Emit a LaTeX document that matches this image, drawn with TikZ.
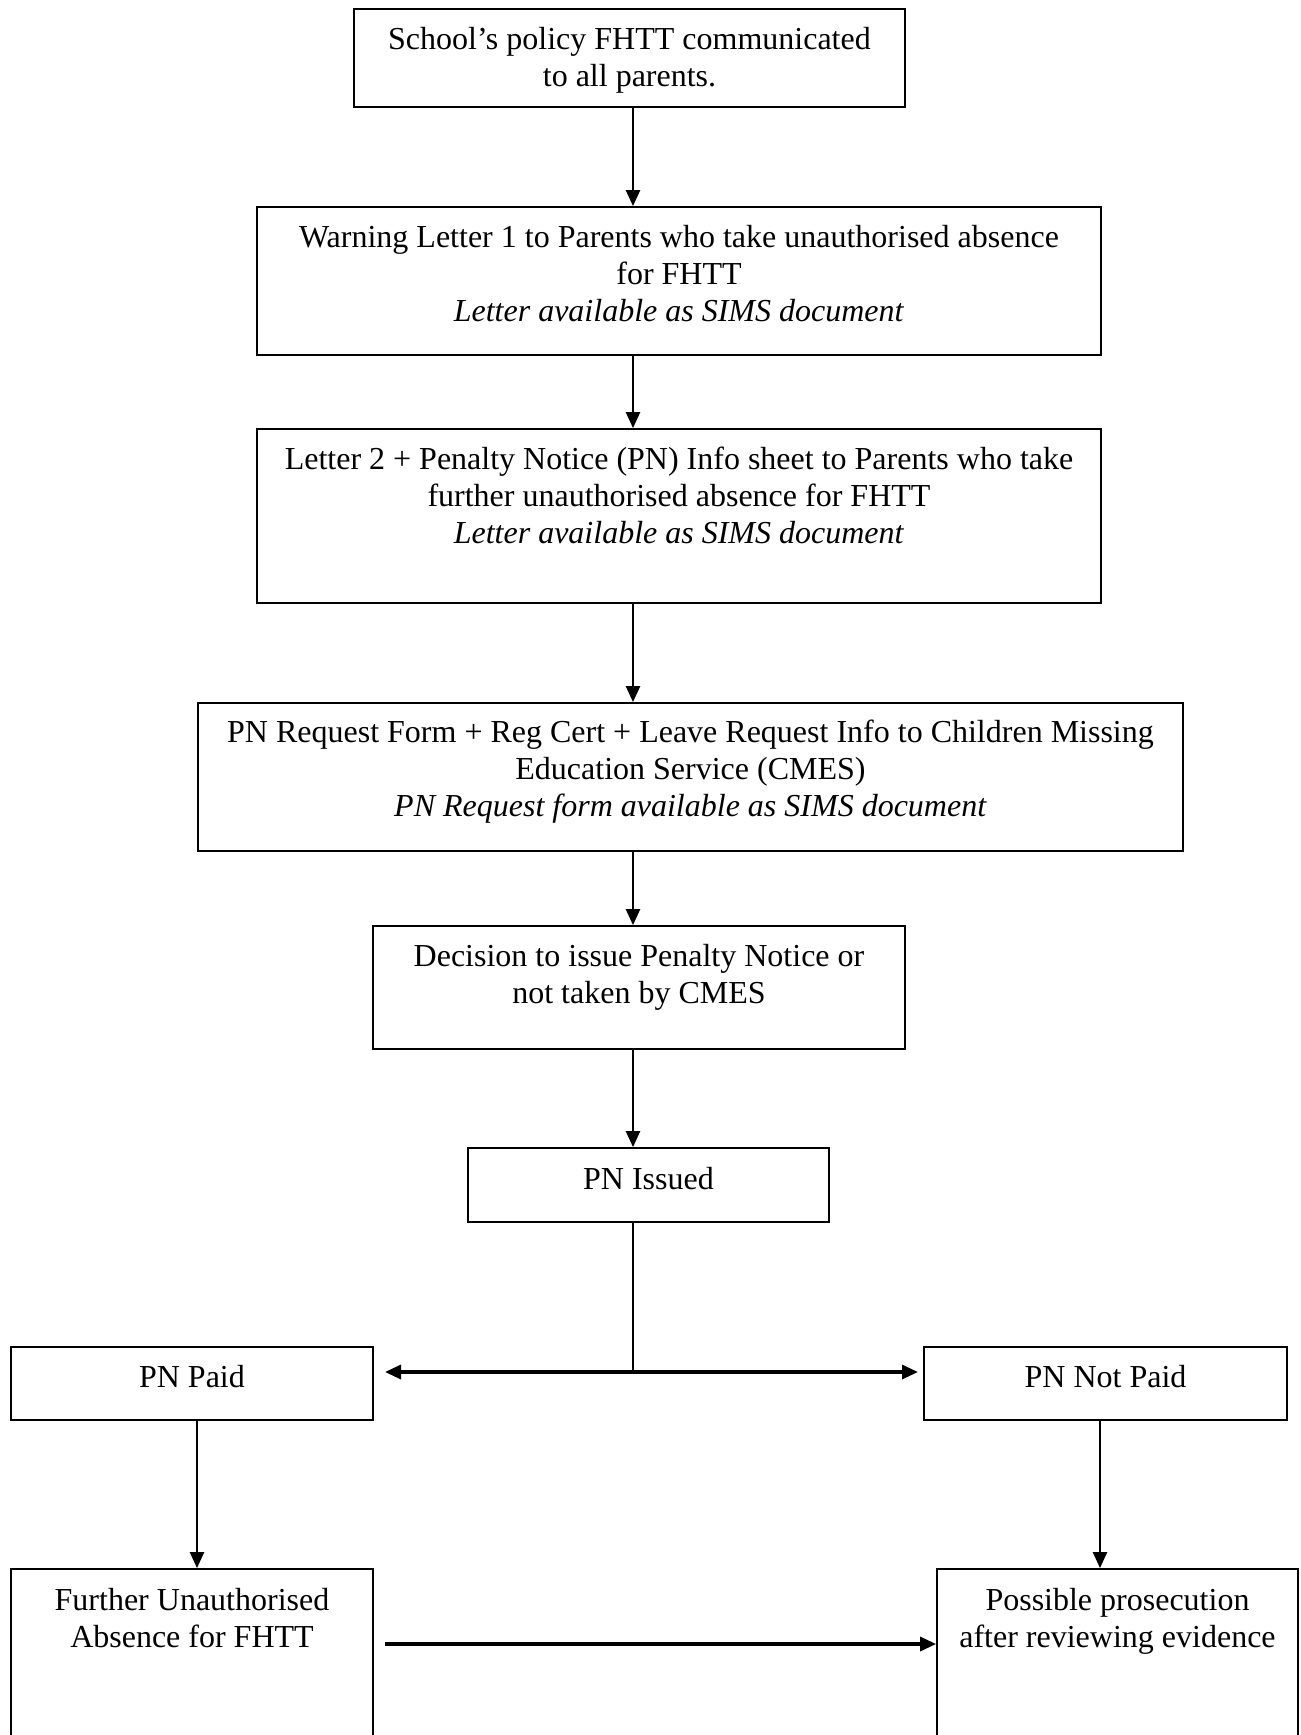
\documentclass[tikz,border=0pt]{standalone}
\usepackage{fontspec}
\setmainfont{Liberation Serif}
\usetikzlibrary{arrows.meta}
\begin{document}
\begin{tikzpicture}[x=0.5pt,y=-0.5pt,
  box/.style={draw, line width=0.9pt, inner sep=0pt},
  txt/.style={align=center, inner sep=0pt, anchor=north, font=\fontsize{16}{18.5}\selectfont},
  arr/.style={line width=1.2pt, -{Triangle[length=8pt,width=7pt]}},
  harr/.style={line width=1.6pt, -{Triangle[length=8pt,width=7pt]}},
  darr/.style={line width=1.6pt, {Triangle[length=8pt,width=7pt]}-{Triangle[length=8pt,width=7pt]}},
  thin line/.style={line width=0.6pt}
]
\useasboundingbox (0,0) rectangle (1301,1735);
% boxes
\node[box, minimum width=275.5pt, minimum height=49pt] (b1) at (629.5,58) {};
\node[box, minimum width=422pt, minimum height=74pt] (b2) at (679,281) {};
\node[box, minimum width=422pt, minimum height=87pt] (b3) at (679,516) {};
\node[box, minimum width=492.5pt, minimum height=74pt] (b4) at (690.5,777) {};
\node[box, minimum width=266pt, minimum height=61.5pt] (b5) at (639,987.5) {};
\node[box, minimum width=180.5pt, minimum height=37pt] (b6) at (648.5,1185) {};
\node[box, minimum width=181pt, minimum height=36.5pt] (b7) at (192,1383.5) {};
\node[box, minimum width=181.5pt, minimum height=36.5pt] (b8) at (1105.5,1383.5) {};
\begin{scope}
\clip (0,0) rectangle (1301,1735);
\node[box, minimum width=181pt, minimum height=115.5pt] (b9) at (192,1684.5) {};
\node[box, minimum width=180.5pt, minimum height=115.5pt] (b10) at (1117.5,1684.5) {};
\end{scope}
% texts
\node[txt] (t1) at (629.5,22.8) {\strut School’s policy FHTT communicated\\\strut to all parents.};
\node[txt] (t2) at (679,220.8) {\strut Warning Letter 1 to Parents who take unauthorised absence\\\strut for FHTT\\\strut\textit{Letter available as SIMS document}};
\node[txt] (t3) at (679,443.2) {\strut Letter 2 + Penalty Notice (PN) Info sheet to Parents who take\\\strut further unauthorised absence for FHTT\\\strut\textit{Letter available as SIMS document}};
\node[txt] (t4) at (690.5,716.4) {\strut PN Request Form + Reg Cert + Leave Request Info to Children Missing\\\strut Education Service (CMES)\\\strut\textit{PN Request form available as SIMS document}};
\node[txt] (t5) at (639,939.9) {\strut Decision to issue Penalty Notice or\\\strut not taken by CMES};
\node[txt] (t6) at (648.5,1163.4) {\strut PN Issued};
\node[txt] (t7) at (192,1361.4) {\strut PN Paid};
\node[txt] (t8) at (1105.5,1361.4) {\strut PN Not Paid};
\node[txt] (t9) at (192,1583.8) {\strut Further Unauthorised\\\strut Absence for FHTT};
\node[txt] (t10) at (1117.5,1583.8) {\strut Possible prosecution\\\strut after reviewing evidence};
% connectors
\coordinate (ax) at (633,0);
\draw[arr] (b1.south -| ax) -- (b2.north -| ax);
\draw[arr] (b2.south -| ax) -- (b3.north -| ax);
\draw[arr] (b3.south -| ax) -- (b4.north -| ax);
\draw[arr] (b4.south -| ax) -- (b5.north -| ax);
\draw[arr] (b5.south -| ax) -- (b6.north -| ax);
\coordinate (j) at (633,1372);
\coordinate (lt) at (385,1372);
\coordinate (rt) at (918,1372);
\draw[thin line] (b6.south -| ax) -- (j);
\draw[darr] (lt) -- (rt);
\coordinate (pl) at (197,0);
\coordinate (pr) at (1100,0);
\draw[arr] (b7.south -| pl) -- (b9.north -| pl);
\draw[arr] (b8.south -| pr) -- (b10.north -| pr);
\coordinate (bl) at (385,1644);
\draw[harr] (bl) -- (bl -| b10.west);
\end{tikzpicture}
\end{document}
